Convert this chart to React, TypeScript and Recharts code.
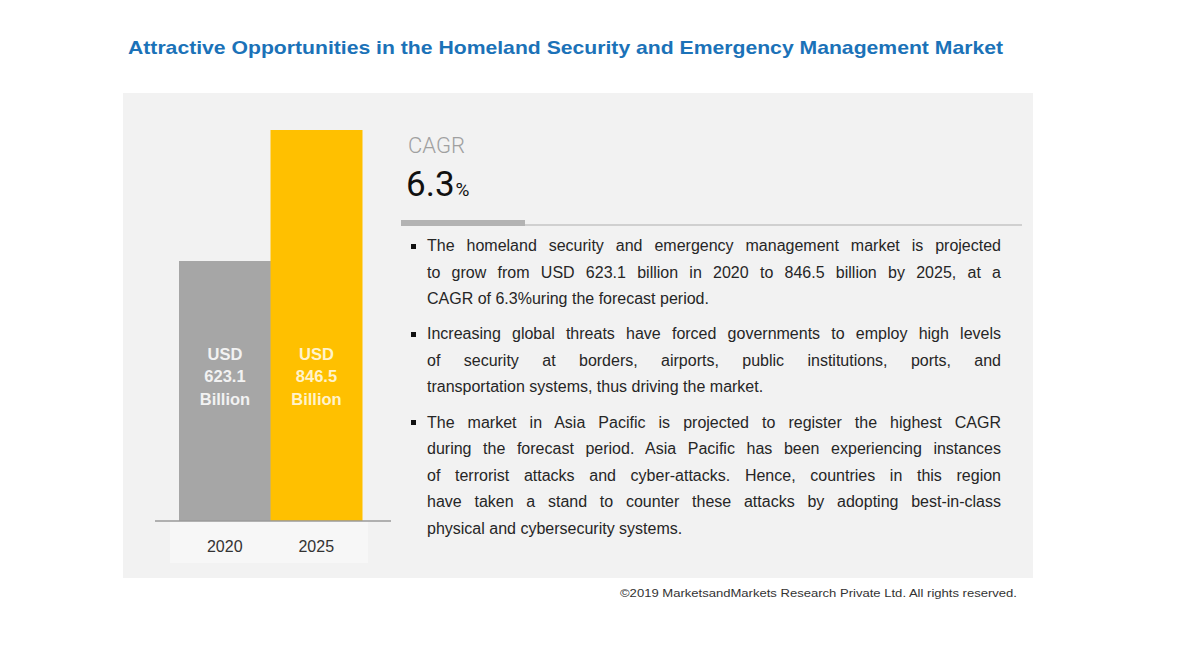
import React from 'react';
import { BarChart, Bar, XAxis, YAxis, Cell, LabelList } from 'recharts';

const titleText = 'Attractive Opportunities in the Homeland Security and Emergency Management Market';
const years = ['2020', '2025'];
const marketValues = [623.1, 846.5];
const barColors = ['#a6a6a6', '#ffc000'];
const labelColors = ['#f2f2f2', '#fff3cc'];
const cagrLabel = 'CAGR';
const cagrValue = '6.3';
const paragraphs: string[][] = [
  [
    'The homeland security and emergency management market is projected',
    'to grow from USD 623.1 billion in 2020 to 846.5 billion by 2025, at a',
    'CAGR of 6.3%uring the forecast period.',
  ],
  [
    'Increasing global threats have forced governments to employ high levels',
    'of security at borders, airports, public institutions, ports, and',
    'transportation systems, thus driving the market.',
  ],
  [
    'The market in Asia Pacific is projected to register the highest CAGR',
    'during the forecast period. Asia Pacific has been experiencing instances',
    'of terrorist attacks and cyber-attacks. Hence, countries in this region',
    'have taken a stand to counter these attacks by adopting best-in-class',
    'physical and cybersecurity systems.',
  ],
];
const footerText = '\u00A92019 MarketsandMarkets  Research Private Ltd. All rights reserved.';

const data = years.map((year, i) => ({ year, value: marketValues[i] }));

const SANS = '"Liberation Sans", Arial, sans-serif';

const BarValueLabel = (props: any) => {
  const vb = props.viewBox || props;
  const x = Number(vb.x);
  const y = Number(vb.y);
  const width = Number(vb.width);
  const height = Number(vb.height);
  const value = props.value;
  const idx = marketValues.indexOf(Number(value));
  const cx = x + width / 2;
  const base = y + height;
  const fill = labelColors[idx >= 0 ? idx : 0];
  return (
    <text textAnchor="middle" fill={fill} fontFamily={SANS} fontSize={16.5} fontWeight="bold">
      <tspan x={cx} y={base - 161}>USD</tspan>
      <tspan x={cx} y={base - 139}>{String(value)}</tspan>
      <tspan x={cx} y={base - 116}>Billion</tspan>
    </text>
  );
};

export default function App() {
  return (
    <div style={{ position: 'absolute', left: 0, top: 0, width: 1200, height: 650, background: '#ffffff', overflow: 'hidden' }}>
      {/* grey panel */}
      <div style={{ position: 'absolute', left: 123, top: 93, width: 910, height: 485, background: '#f2f2f2' }} />
      {/* lighter box behind the year labels */}
      <div style={{ position: 'absolute', left: 170, top: 521, width: 198, height: 42, background: '#f7f7f7' }} />

      {/* bar chart */}
      <div style={{ position: 'absolute', left: 140, top: 100 }}>
        <BarChart
          width={280}
          height={480}
          data={data}
          margin={{ top: 30, right: 29, bottom: 29, left: 15 }}
          barCategoryGap={0}
          barGap={0}
        >
          <XAxis
            dataKey="year"
            interval={0}
            axisLine={{ stroke: '#9a9a9a', strokeWidth: 1.5 }}
            tickLine={false}
            tickMargin={14}
            padding={{ left: 24, right: 29 }}
            tick={{ fill: '#333333', fontSize: 16, fontFamily: SANS }}
          />
          <YAxis hide type="number" domain={[180, 846.5]} allowDataOverflow />
          <Bar dataKey="value" isAnimationActive={false}>
            {data.map((d, i) => (
              <Cell key={d.year} fill={barColors[i]} />
            ))}
            <LabelList dataKey="value" content={BarValueLabel} />
          </Bar>
        </BarChart>
      </div>

      {/* overlay texts */}
      <svg width={1200} height={650} style={{ position: 'absolute', left: 0, top: 0, pointerEvents: 'none' }}>
        <text x={128} y={54} fill="#1b72b8" fontFamily={SANS} fontWeight="bold" fontSize={19} textLength={875} lengthAdjust="spacingAndGlyphs">
          {titleText}
        </text>
        <text x={408} y={153} fill="#a0a0a0" fontFamily="Roboto, sans-serif" fontSize={22} fontWeight={300}>
          {cagrLabel}
        </text>
        <text x={406} y={196} fill="#111111" fontFamily="Roboto, sans-serif" fontSize={35}>
          {cagrValue}
          <tspan fontSize={19} dx={1}>%</tspan>
        </text>
        <rect x={401} y={224} width={621} height={2} fill="#d0d0d0" />
        <rect x={401} y={220} width={124} height={6} fill="#b3b3b3" />
        <text x={620} y={597} fill="#333333" fontFamily={SANS} fontSize={11} textLength={397} lengthAdjust="spacingAndGlyphs">
          {footerText}
        </text>
      </svg>

      {/* bullet paragraphs */}
      <div style={{ position: 'absolute', left: 427, top: 233, width: 574, fontFamily: SANS, fontSize: 16, color: '#262626' }}>
        {paragraphs.map((lines, pi) => (
          <div key={pi} style={{ position: 'relative', marginBottom: 8.5 }}>
            <div style={{ position: 'absolute', left: -16, top: 10.5, width: 5, height: 5, background: '#111' }} />
            {lines.map((line, li) => (
              <div
                key={li}
                style={{
                  height: 26.6,
                  lineHeight: '26.6px',
                  whiteSpace: 'nowrap',
                  textAlign: li === lines.length - 1 ? 'left' : 'justify',
                  textAlignLast: li === lines.length - 1 ? 'left' : 'justify',
                }}
              >
                {line}
              </div>
            ))}
          </div>
        ))}
      </div>
    </div>
  );
}
